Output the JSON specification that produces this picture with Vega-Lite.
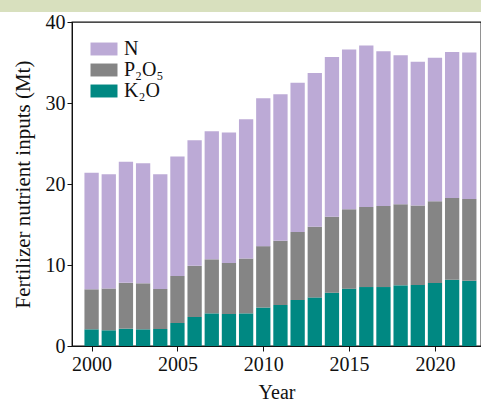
{
  "$schema": "https://vega.github.io/schema/vega-lite/v6.json",
  "autosize": "none",
  "width": 409,
  "height": 324,
  "padding": {"left": 72, "top": 22, "right": 0, "bottom": 57},
  "background": "white",
  "config": {
    "view": {"stroke": "#111", "strokeWidth": 1.3},
    "font": "Liberation Serif",
    "axis": {
      "labelFont": "Liberation Serif", "labelFontSize": 20, "labelColor": "#111",
      "titleFont": "Liberation Serif", "titleFontSize": 21, "titleFontWeight": "normal", "titleColor": "#111",
      "domainColor": "#111", "tickColor": "#111", "tickSize": 5, "grid": false, "labelPadding": 2
    },
    "legend": {
      "labelFont": "Liberation Serif", "labelFontSize": 20, "labelColor": "#111"
    }
  },
  "data": {
    "values": [
      {"year": 2000, "K₂O": 2.06, "P₂O₅": 4.94, "N": 14.4},
      {"year": 2001, "K₂O": 1.94, "P₂O₅": 5.16, "N": 14.1},
      {"year": 2002, "K₂O": 2.14, "P₂O₅": 5.66, "N": 14.95},
      {"year": 2003, "K₂O": 2.06, "P₂O₅": 5.68, "N": 14.81},
      {"year": 2004, "K₂O": 2.1, "P₂O₅": 4.94, "N": 14.16},
      {"year": 2005, "K₂O": 2.84, "P₂O₅": 5.8, "N": 14.76},
      {"year": 2006, "K₂O": 3.58, "P₂O₅": 6.32, "N": 15.5},
      {"year": 2007, "K₂O": 4.03, "P₂O₅": 6.67, "N": 15.8},
      {"year": 2008, "K₂O": 3.95, "P₂O₅": 6.3, "N": 16.1},
      {"year": 2009, "K₂O": 4.03, "P₂O₅": 6.77, "N": 17.2},
      {"year": 2010, "K₂O": 4.75, "P₂O₅": 7.58, "N": 18.27},
      {"year": 2011, "K₂O": 5.06, "P₂O₅": 7.94, "N": 18.07},
      {"year": 2012, "K₂O": 5.68, "P₂O₅": 8.39, "N": 18.43},
      {"year": 2013, "K₂O": 6.0, "P₂O₅": 8.73, "N": 18.97},
      {"year": 2014, "K₂O": 6.58, "P₂O₅": 9.39, "N": 19.71},
      {"year": 2015, "K₂O": 7.08, "P₂O₅": 9.79, "N": 19.73},
      {"year": 2016, "K₂O": 7.28, "P₂O₅": 9.88, "N": 19.94},
      {"year": 2017, "K₂O": 7.28, "P₂O₅": 10.0, "N": 19.12},
      {"year": 2018, "K₂O": 7.49, "P₂O₅": 10.01, "N": 18.4},
      {"year": 2019, "K₂O": 7.53, "P₂O₅": 9.83, "N": 17.74},
      {"year": 2020, "K₂O": 7.78, "P₂O₅": 10.08, "N": 17.74},
      {"year": 2021, "K₂O": 8.19, "P₂O₅": 10.08, "N": 18.03},
      {"year": 2022, "K₂O": 8.06, "P₂O₅": 10.09, "N": 18.1}
    ]
  },
  "layer": [
    {
      "mark": {"type": "rect", "color": "#d8e0be", "clip": false},
      "encoding": {
        "x": {"datum": 1994}, "x2": {"datum": 2030},
        "y": {"datum": 41.25}, "y2": {"datum": 43.2}
      }
    },
    {
      "transform": [
        {"fold": ["K₂O", "P₂O₅", "N"], "as": ["nutrient", "value"]},
        {"window": [{"op": "row_number", "as": "layer_rank"}], "groupby": ["year"]}
      ],
      "mark": {"type": "bar", "size": 14.3},
      "encoding": {
        "x": {
          "field": "year", "type": "quantitative",
          "scale": {"domain": [1999.15, 2022.39], "nice": false, "zero": false},
          "axis": {"values": [2000, 2005, 2010, 2015, 2020], "format": "d", "title": "Year", "titleFontSize": 20, "titlePadding": 8, "labelPadding": 3}
        },
        "y": {
          "field": "value", "type": "quantitative", "stack": "zero",
          "scale": {"domain": [0, 40], "nice": false},
          "axis": {"values": [0, 10, 20, 30, 40], "title": "Fertilizer nutrient inputs (Mt)", "titlePadding": 12}
        },
        "order": {"field": "layer_rank", "type": "quantitative", "sort": "ascending"},
        "color": {
          "field": "nutrient", "type": "nominal",
          "sort": ["N", "P₂O₅", "K₂O"],
          "scale": {"domain": ["N", "P₂O₅", "K₂O"], "range": ["#bcaad6", "#858585", "#008882"]},
          "legend": {
            "title": null, "orient": "none", "legendX": 22, "legendY": 17, "padding": 0,
            "symbolType": "M-2,-0.96H2V0.96H-2Z", "symbolSize": 182, "symbolStrokeWidth": 0,
            "symbolOpacity": 1, "labelOffset": 10, "rowPadding": 1
          }
        }
      }
    }
  ]
}
